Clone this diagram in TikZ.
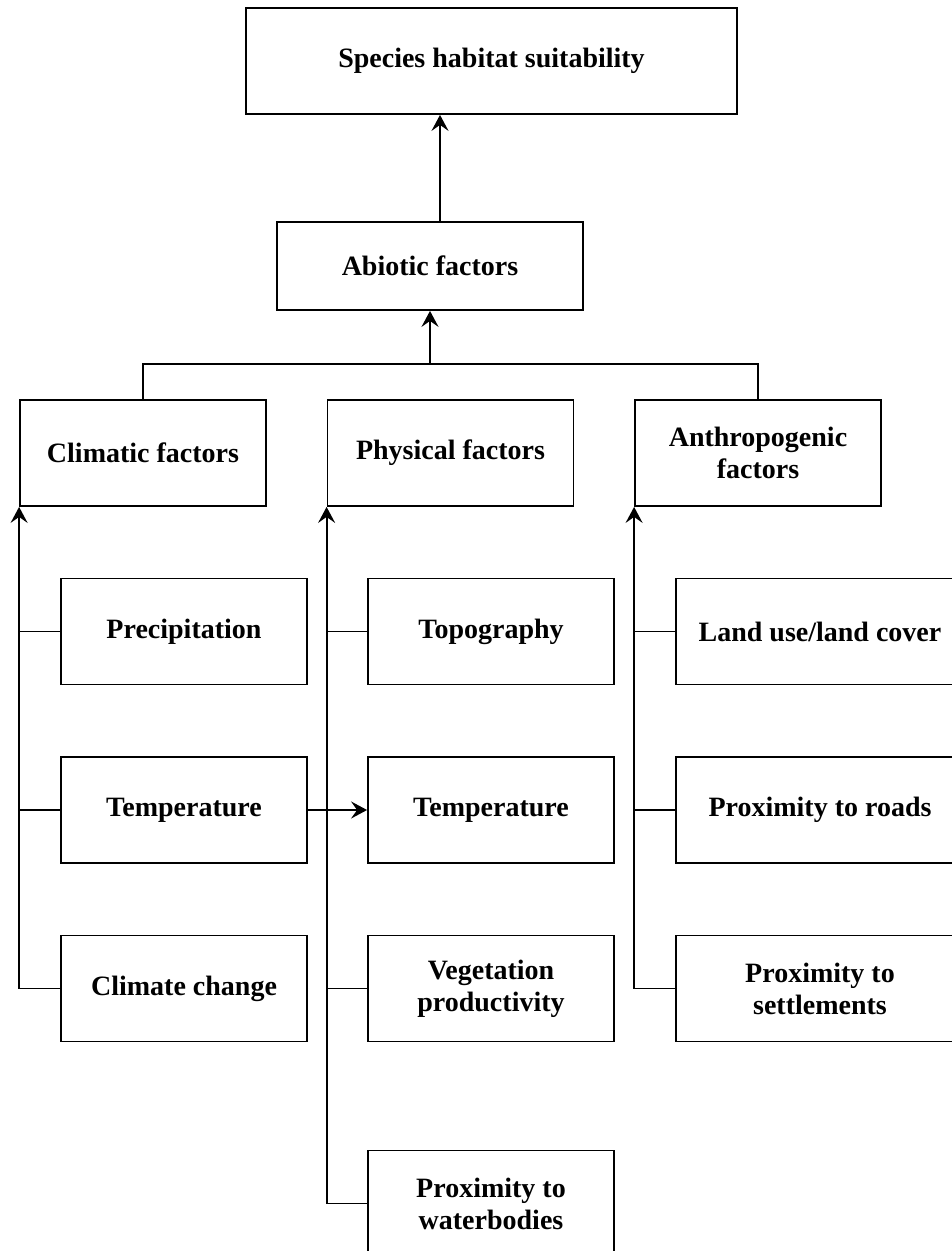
\documentclass[tikz,border=0pt]{standalone}
\usepackage{fontspec}
\setmainfont{Liberation Serif}
\usetikzlibrary{arrows.meta}
\begin{document}
\begin{tikzpicture}[x=1pt,y=-1pt,
  box/.style={draw,line width=1.8pt,inner sep=0pt,align=center,minimum width=246pt,minimum height=106pt,
    font=\fontsize{28}{32}\selectfont\bfseries},
  wire/.style={line width=1.8pt},
  arr/.style={wire,-{Stealth[length=16pt,width=17pt,inset=6pt]}}]
\useasboundingbox (0,0) rectangle (952,1251);
\clip (0,0) rectangle (952,1251);
\node[box,minimum width=491pt] (species) at (491.5,61) {Species habitat suitability};
\node[box,minimum width=306pt,minimum height=88pt] (abiotic) at (430,266) {Abiotic factors};
\node[box] (climatic) at (143,453) {Climatic factors};
\node[box] (physical) at (450.5,453) {Physical factors};
\node[box] (anthro) at (758,453) {Anthropogenic\\factors};
\node[box] (prec) at (184,631.5) {Precipitation};
\node[box] (tempa) at (184,810) {Temperature};
\node[box] (cc) at (184,988.5) {Climate change};
\node[box] (topo) at (491,631.5) {Topography};
\node[box] (tempb) at (491,810) {Temperature};
\node[box] (veg) at (491,988.5) {Vegetation\\productivity};
\node[box] (water) at (491,1203.5) {Proximity to\\waterbodies};
\node[box,minimum width=288pt] (lulc) at (820,631.5) {Land use/land cover};
\node[box,minimum width=288pt] (roads) at (820,810) {Proximity to roads};
\node[box,minimum width=288pt] (settle) at (820,988.5) {Proximity to\\settlements};
\coordinate (j) at (430,364);
\draw[arr] ([xshift=10pt]abiotic.north) -- ([xshift=10pt]abiotic.north |- species.south);
\draw[wire] (climatic.north) |- (j) -| (anthro.north);
\draw[arr] (j) -- (abiotic.south);
\draw[arr] (cc.west) -| (climatic.south west);
\draw[wire] (prec.west) -- (prec.west -| climatic.west);
\draw[wire] (tempa.west) -- (tempa.west -| climatic.west);
\draw[arr] (water.west) -| (physical.south west);
\draw[wire] (topo.west) -- (topo.west -| physical.west);
\draw[wire] (veg.west) -- (veg.west -| physical.west);
\draw[arr] (settle.west) -| (anthro.south west);
\draw[wire] (lulc.west) -- (lulc.west -| anthro.west);
\draw[wire] (roads.west) -- (roads.west -| anthro.west);
\draw[arr] (tempa.east) -- (tempb.west);
\end{tikzpicture}
\end{document}
